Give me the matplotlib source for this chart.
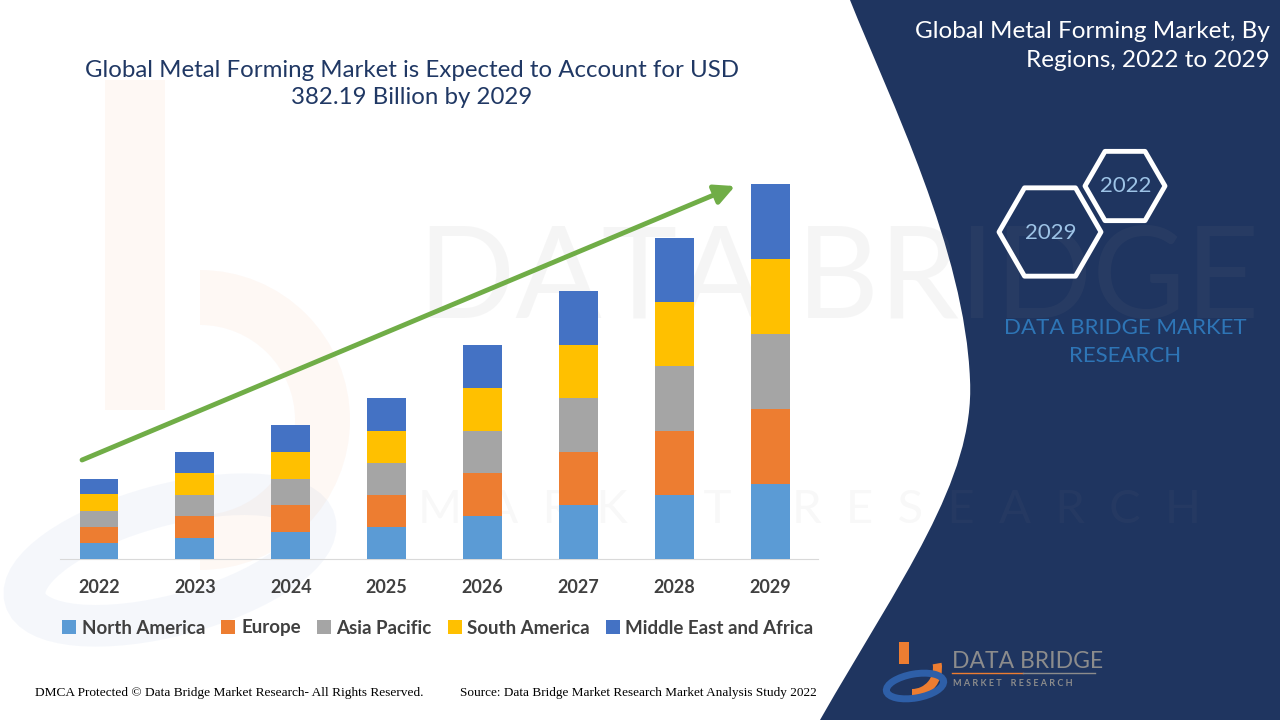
import matplotlib
matplotlib.use("Agg")
import matplotlib.pyplot as plt
from matplotlib.patches import Polygon, PathPatch, Rectangle, Wedge, Ellipse
from matplotlib.path import Path
import numpy as np

# chart data (USD billion)
years = ["2022", "2023", "2024", "2025", "2026", "2027", "2028", "2029"]
north_america = [16.3, 21.4, 27.5, 32.6, 43.8, 55.0, 65.2, 76.4]
europe = [16.3, 22.4, 27.5, 32.6, 43.8, 54.0, 65.2, 76.4]
asia_pacific = [16.3, 21.4, 26.5, 32.6, 42.8, 55.0, 66.3, 76.4]
south_america = [17.3, 22.4, 27.5, 32.6, 43.8, 54.0, 65.2, 76.4]
middle_east_africa = [15.3, 21.4, 27.5, 33.6, 43.8, 55.0, 65.2, 76.6]

regions = ["North America", "Europe", "Asia Pacific", "South America",
           "Middle East and Africa"]
colors = ["#5B9BD5", "#ED7D31", "#A5A5A5", "#FFC000", "#4472C4"]

title = "Global Metal Forming Market is Expected to Account for USD\n382.19 Billion by 2029"
side_title = "Global Metal Forming Market, By\nRegions, 2022 to 2029"

plt.rcParams['font.family'] = ['Lato', 'DejaVu Sans']

fig = plt.figure(figsize=(12.8, 7.2), dpi=100)

# background layer in pixel coordinates (y down)
bg = fig.add_axes([0, 0, 1, 1], zorder=0)
bg.set_xlim(0, 1280)
bg.set_ylim(720, 0)
bg.axis('off')

# faint logo shape on the left
bg.add_patch(Rectangle((105, 80), 60, 330, color="#ED7D31", alpha=0.05, lw=0, zorder=1))
bg.add_patch(Wedge((200, 420), 150, -90, 90, width=55, color="#ED7D31", alpha=0.05, lw=0, zorder=1))
bg.add_patch(Ellipse((170, 560), 300, 110, angle=-15, fill=False, edgecolor="#4472C4",
                     alpha=0.05, lw=30, zorder=1))

# navy side panel
verts = [(850, 0), (1280, 0), (1280, 720), (820, 720),
         (900, 580), (975, 480), (970, 380),
         (965, 250), (890, 100), (850, 0)]
codes = [Path.MOVETO, Path.LINETO, Path.LINETO, Path.LINETO,
         Path.CURVE4, Path.CURVE4, Path.CURVE4,
         Path.CURVE4, Path.CURVE4, Path.CURVE4]
bg.add_patch(PathPatch(Path(verts, codes), facecolor="#1F3560", edgecolor='none', zorder=2))

# watermark text over both areas
bg.text(418, 282, "DATA BRIDGE", fontsize=92, color="#8a8a8a", alpha=0.08,
        ha='left', va='center', zorder=2.5)
bg.text(418, 510, "M  A  R  K  E  T     R  E  S  E  A  R  C  H", fontsize=34,
        color="#8a8a8a", alpha=0.06, ha='left', va='center', zorder=2.5)

bg.text(1270, 46, side_title, color='white', fontsize=17.5, ha='right', va='center',
        linespacing=1.42, zorder=3)


def hexagon(cx, cy, r):
    pts = [(cx + r * np.cos(a), cy + r * np.sin(a)) for a in np.radians(np.arange(0, 360, 60))]
    return Polygon(pts, closed=True, fill=False, edgecolor='white', lw=3.5,
                   joinstyle='round', zorder=3)


bg.add_patch(hexagon(1125, 186, 40))
bg.add_patch(hexagon(1050, 232, 51))
bg.text(1126, 186, "2022", color="#9DC3E6", fontsize=16, ha='center', va='center', zorder=4)
bg.text(1051, 233, "2029", color="#9DC3E6", fontsize=16, ha='center', va='center', zorder=4)
bg.text(1125, 342, "DATA BRIDGE MARKET\nRESEARCH", color="#2E75B6", fontsize=16,
        ha='center', va='center', linespacing=1.5, zorder=3)

# small logo bottom right
bg.add_patch(Rectangle((899, 642), 10, 22, color="#ED7D31", zorder=4, lw=0))
bg.add_patch(Wedge((912, 668), 30, -10, 90, width=9, color="#ED7D31", zorder=4, lw=0))
bg.add_patch(Ellipse((915, 686), 58, 24, angle=-10, fill=False, edgecolor="#2E5FA8",
                     lw=5, zorder=4))
bg.text(952, 661, "DATA BRIDGE", color="#8C8C8C", fontsize=16.5, ha='left', va='center',
        zorder=4)
bg.plot([952, 1023], [673, 673], color="#ED7D31", lw=1, zorder=4)
bg.plot([1023, 1095], [673, 673], color="#8C8C8C", lw=1, zorder=4)
bg.text(953, 683, "M A R K E T    R E S E A R C H", color="#8C8C8C", fontsize=6.5,
        ha='left', va='center', fontweight='bold', zorder=4)

# title and footers
bg.text(412, 84, title, color="#203864", fontsize=17.3, ha='center', va='center',
        linespacing=1.4, zorder=3)
bg.text(35, 693, "DMCA Protected \u00a9 Data Bridge Market Research- All Rights Reserved.",
        family='Liberation Serif', fontsize=9.6, color='black', ha='left', va='center', zorder=3)
bg.text(460, 693, "Source: Data Bridge Market Research Market Analysis Study 2022",
        family='Liberation Serif', fontsize=9.5, color='black', ha='left', va='center', zorder=3)

# main chart
ax = fig.add_axes([60 / 1280, 161 / 720, 758 / 1280, 389 / 720], zorder=2)
ax.patch.set_alpha(0)
x = np.arange(len(years))
series = [north_america, europe, asia_pacific, south_america, middle_east_africa]
bottom = np.zeros(len(years))
for vals, name, col in zip(series, regions, colors):
    ax.bar(x, vals, width=0.405, bottom=bottom, color=col, label=name, zorder=3)
    bottom += np.array(vals)

ax.set_xlim(-0.4067, 7.497)
ax.set_ylim(0, 396.5)
ax.set_xticks(x)
ax.set_xticklabels(years)
ax.tick_params(axis='x', length=0, pad=14.5, labelsize=13, labelcolor="#404040")
for lbl in ax.get_xticklabels():
    lbl.set_fontweight('bold')
ax.set_yticks([])
for s in ['top', 'left', 'right']:
    ax.spines[s].set_visible(False)
ax.spines['bottom'].set_color("#D9D9D9")

# growth arrow
ax.annotate("", xy=(6.632, 380.1), xytext=(-0.177, 100.9),
            arrowprops=dict(arrowstyle="-|>,head_length=1.2,head_width=0.6",
                            color="#70AD47", lw=3.5, shrinkA=0, shrinkB=0), zorder=4)

handles, labels = ax.get_legend_handles_labels()
leg = fig.legend(handles, labels, loc='center', bbox_to_anchor=(438 / 1280, 1 - 628 / 720),
                 ncol=5, frameon=False, handlelength=0.75, handleheight=0.75,
                 handletextpad=0.3, columnspacing=0.85,
                 prop={'size': 13.5, 'weight': 'bold'})
for t in leg.get_texts():
    t.set_color("#404040")

fig.savefig("out.png", dpi=100)
